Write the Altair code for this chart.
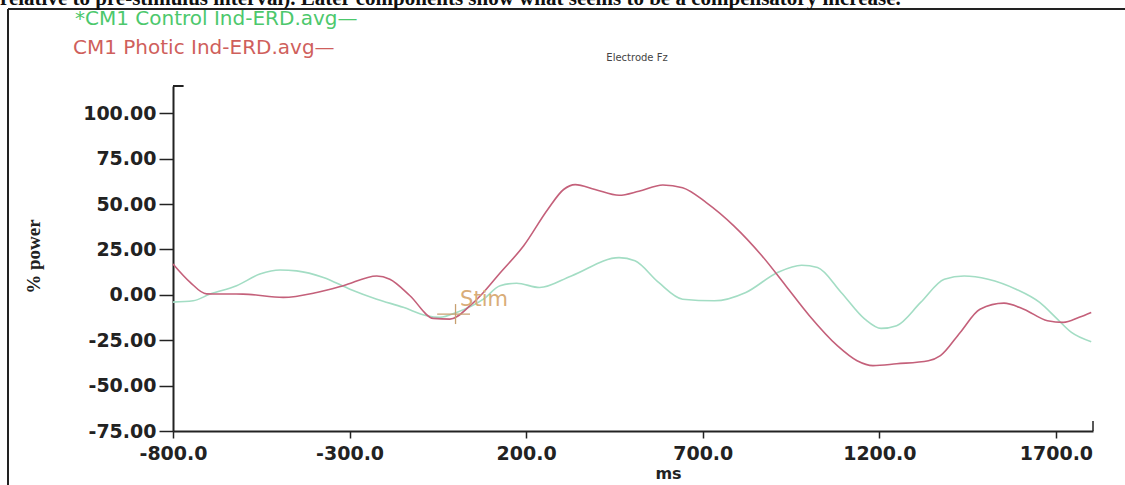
import altair as alt
import pandas as pd

# ---- data ----
photic_ms = [-800, -752, -705, -602, -488, -393, -318, -223, -186, -129, -63, -16, 41, 79, 126,
             193, 261, 306, 339, 395, 463, 519, 587, 643, 710, 788, 868, 935, 1002, 1081, 1137,
             1182, 1249, 1339, 1373, 1429, 1485, 1553, 1609, 1676, 1721, 1766, 1800]
photic_val = [17, 7, 0.5, 0.4, -1.4, 1.3, 5, 10.4, 8.6, -0.5, -13, -13.4, -6, 1.3, 12,
              27, 47, 58, 60.7, 58, 54.8, 57, 60.5, 59, 50.8, 38, 21.4, 5, -11.5, -28, -36.3,
              -39, -38, -36.3, -33.5, -20.7, -7.9, -4.6, -7.9, -14.3, -15.2, -12.4, -9.7]

control_ms = [-800, -743, -695, -620, -554, -497, -450, -374, -299, -223, -148, -82, -44, 3, 79,
              126, 173, 238, 328, 463, 508, 575, 643, 733, 822, 912, 980, 1025, 1092, 1159,
              1205, 1249, 1317, 1384, 1440, 1508, 1587, 1654, 1699, 1744, 1800]
control_val = [-4, -3.3, 0.4, 5, 11.4, 13.7, 13.2, 9.6, 3.1, -2.4, -6.9, -11.5, -12.4, -9.7, -2.4,
               5, 6.4, 4, 10.4, 20.5, 18.7, 6.8, -2.4, -3.3, 1.3, 12.3, 16.3, 15, 1.3, -13.4,
               -18.5, -17, -4.2, 8.6, 10.4, 8.6, 3.1, -4.2, -12.4, -20.7, -25.8]

series_names = ["CM1 Control Ind-ERD.avg", "CM1 Photic Ind-ERD.avg"]
series_colors = ["#a3ddc4", "#c4607a"]
y_ticks = [-75, -50, -25, 0, 25, 50, 75, 100]
x_ticks = [-800, -300, 200, 700, 1200, 1700]
x_domain = [-800, 1805]
y_domain = [-75, 115]

stim_ms = 0
stim_val = -10.6

df = pd.concat([
    pd.DataFrame({"ms": control_ms, "power": control_val, "series": series_names[0], "order": range(len(control_ms))}),
    pd.DataFrame({"ms": photic_ms, "power": photic_val, "series": series_names[1], "order": range(len(photic_ms))}),
])

xs = alt.Scale(domain=x_domain, nice=False, zero=False)
ys = alt.Scale(domain=y_domain, nice=False, zero=False)

base_font = "DejaVu Sans"

lines = alt.Chart(df).mark_line(strokeWidth=1.6, interpolate="monotone").encode(
    x=alt.X("ms:Q", scale=xs,
            axis=alt.Axis(values=x_ticks, title="ms", grid=False,
                          labelExpr="(datum.value < 0 ? '-' : '') + format(abs(datum.value), '.1f')",
                          domainColor="#222", domainWidth=2, tickColor="#222", tickWidth=1.5,
                          tickSize=7, labelPadding=6, labelFont=base_font, labelFontSize=19,
                          labelFontWeight="bold", labelColor="#222",
                          titleFont=base_font, titleFontSize=16, titleFontWeight="bold",
                          titleColor="#222", titleX=495, titleY=42, titleBaseline="middle",
                          labelFlush=False)),
    y=alt.Y("power:Q", scale=ys,
            axis=alt.Axis(values=y_ticks, title="% power", grid=False,
                          labelExpr="(datum.value < 0 ? '-' : '') + format(abs(datum.value), '.2f')",
                          domainColor="#222", domainWidth=2, tickColor="#222", tickWidth=1.5,
                          tickSize=14, labelPadding=3, labelFont=base_font, labelFontSize=19,
                          labelFontWeight="bold", labelColor="#222",
                          titleFont="Liberation Serif", titleFontSize=19, titleFontWeight="bold",
                          titleColor="#222", titleAngle=-90, titleX=-140, titleY=170,
                          titleAlign="center", titleBaseline="middle", labelFlush=False)),
    color=alt.Color("series:N", scale=alt.Scale(domain=series_names, range=series_colors), legend=None),
    order="order:Q",
)

# small end ticks of the axes
end_tick_df = pd.DataFrame({"x": [x_domain[1]], "y": [y_domain[0]], "y2": [y_domain[0] + 5.5]})
end_tick = alt.Chart(end_tick_df).mark_rule(color="#222", strokeWidth=1.5).encode(
    x=alt.X("x:Q", scale=xs), y=alt.Y("y:Q", scale=ys), y2="y2:Q")
top_tick_df = pd.DataFrame({"x": [x_domain[0]], "x2": [x_domain[0] + 30], "y": [y_domain[1]]})
top_tick = alt.Chart(top_tick_df).mark_rule(color="#222", strokeWidth=2).encode(
    x=alt.X("x:Q", scale=xs), x2="x2:Q", y=alt.Y("y:Q", scale=ys))

# Stim marker
stim_h_df = pd.DataFrame({"x": [stim_ms - 52], "x2": [stim_ms + 41], "y": [stim_val]})
stim_h = alt.Chart(stim_h_df).mark_rule(color="#c8a070", strokeWidth=1.3).encode(
    x=alt.X("x:Q", scale=xs), x2="x2:Q", y=alt.Y("y:Q", scale=ys))
stim_v_df = pd.DataFrame({"x": [stim_ms], "y": [stim_val + 5.5], "y2": [stim_val - 5.5]})
stim_v = alt.Chart(stim_v_df).mark_rule(color="#c8a070", strokeWidth=1.3).encode(
    x=alt.X("x:Q", scale=xs), y=alt.Y("y:Q", scale=ys), y2="y2:Q")
stim_t_df = pd.DataFrame({"x": [stim_ms + 13], "y": [stim_val + 7.5], "t": ["Stim"]})
stim_t = alt.Chart(stim_t_df).mark_text(align="left", baseline="middle", font=base_font,
                                        fontSize=21, color="#d9ad78").encode(
    x=alt.X("x:Q", scale=xs), y=alt.Y("y:Q", scale=ys), text="t:N")

# legend texts, title and page decorations
legend_green = alt.Chart(pd.DataFrame({"t": ["*" + series_names[0] + "—"]})).mark_text(
    align="left", baseline="middle", font=base_font, fontSize=20, color="#4cc86c").encode(
    x=alt.value(-98), y=alt.value(-67), text="t:N")
legend_red = alt.Chart(pd.DataFrame({"t": [series_names[1] + "—"]})).mark_text(
    align="left", baseline="middle", font=base_font, fontSize=20, color="#cf5f5c").encode(
    x=alt.value(-100), y=alt.value(-38), text="t:N")
electrode = alt.Chart(pd.DataFrame({"t": ["Electrode Fz"]})).mark_text(
    align="center", baseline="middle", font=base_font, fontSize=10, color="#444").encode(
    x=alt.value(464), y=alt.value(-28), text="t:N")
page_text = alt.Chart(pd.DataFrame({"t": [
    "relative to pre-stimulus interval). Later components show what seems to be a compensatory increase."]})).mark_text(
    align="left", baseline="alphabetic", font="Liberation Serif", fontSize=21, fontWeight="bold",
    color="#111").encode(x=alt.value(-173), y=alt.value(-81), text="t:N")
frame_top = alt.Chart(pd.DataFrame({"a": [0]})).mark_rule(color="#222", strokeWidth=2).encode(
    x=alt.value(-165), x2=alt.value(952), y=alt.value(-77))
frame_left = alt.Chart(pd.DataFrame({"a": [0]})).mark_rule(color="#222", strokeWidth=2).encode(
    x=alt.value(-165), y=alt.value(-77), y2=alt.value(400))

chart = alt.layer(
    frame_top, frame_left, page_text, legend_green, legend_red, electrode,
    lines, end_tick, top_tick, stim_h, stim_v, stim_t,
).properties(
    width=920, height=345,
    padding={"left": 173, "top": 86, "right": 32, "bottom": 54},
    autosize=alt.AutoSizeParams(type="none"),
    background="white",
).configure_view(stroke=None)

chart.save("out.html", embed_options={"renderer": "svg", "actions": False})
